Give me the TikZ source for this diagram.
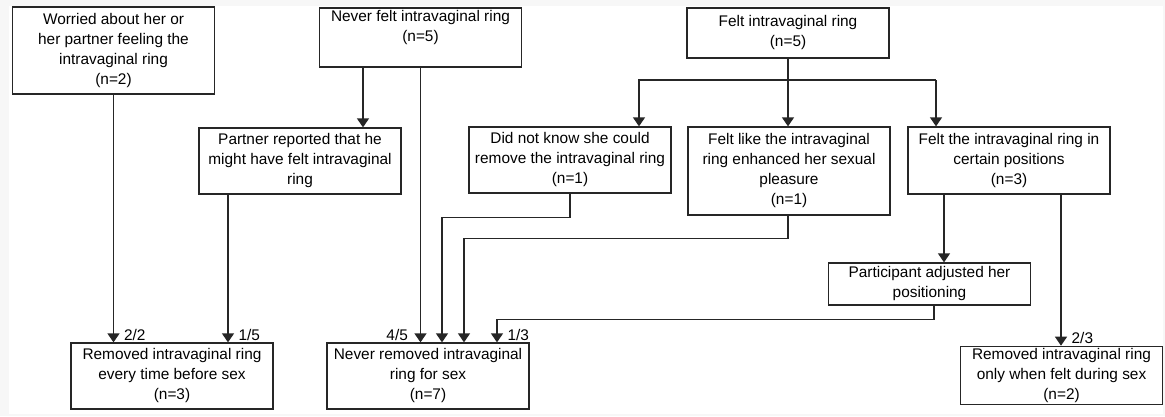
\documentclass[tikz,border=0pt]{standalone}
\usepackage{fontspec}
\setmainfont{Liberation Sans}
\usetikzlibrary{arrows.meta}

\tikzset{
	box/.style={draw=black!85, line width=1.3pt, align=center, inner sep=2pt, minimum width=202pt, font=\fontsize{15.4}{20}\selectfont},
	arr/.style={draw=black!85, line width=1.3pt, -{Triangle[width=12pt,length=9pt]}},
	lin/.style={draw=black!85, line width=1.3pt},
	lab/.style={font=\fontsize{15.4}{18}\selectfont, inner sep=1pt, anchor=south west, xshift=9pt},
	labl/.style={font=\fontsize{15.4}{18}\selectfont, inner sep=1pt, anchor=south east, xshift=-11pt},
}

\begin{document}
\begin{tikzpicture}[x=1pt,y=-1pt]
			\useasboundingbox (0,0) rectangle (1165,416);
			\fill[gray!6] (0,0) rectangle (1165,416);
			\fill[white] (9,6) rectangle (1163,414);

			\node[box, minimum height=87pt] (worry) at (113.5,50.5) {Worried about her or\\her partner feeling the\\intravaginal ring\\(n=2)};
			\node[box, minimum height=59pt, text depth=23pt] (never) at (420.5,37.5) {Never felt intravaginal ring\\(n=5)};
			\node[box, minimum height=50pt] (felt) at (788,33) {Felt intravaginal ring\\(n=5)};
			\node[box, minimum height=66pt] (partner) at (300,161) {Partner reported that he\\might have felt intravaginal\\ring};
			\node[box, minimum height=66pt] (dnk) at (570,160) {Did not know she could\\remove the intravaginal ring\\(n=1)};
			\node[box, minimum height=88pt] (enh) at (789,171) {Felt like the intravaginal\\ring enhanced her sexual\\pleasure\\(n=1)};
			\node[box, minimum height=67pt] (pos) at (1009,160.5) {Felt the intravaginal ring in\\certain positions\\(n=3)};
			\node[box, minimum height=42pt] (adj) at (929.5,284) {Participant adjusted her\\positioning};
			\node[box, minimum height=66pt] (rmall) at (172,376) {Removed intravaginal ring\\every time before sex\\(n=3)};
			\node[box, minimum height=66pt] (nrm) at (428,376) {Never removed intravaginal\\ring for sex\\(n=7)};
			\node[box, minimum height=57pt] (rmfelt) at (1061.5,375.5) {Removed intravaginal ring\\only when felt during sex\\(n=2)};

			\coordinate (brL) at (639,80);
			\coordinate (brR) at (936,80);

			\draw[arr] (worry.south) -- (worry.south |- rmall.north) node[lab]{2/2};
			\draw[arr] ([xshift=-72pt]partner.south) -- ([xshift=-72pt]partner.south |- rmall.north) node[lab]{1/5};
			\draw[arr] ([xshift=-57.5pt]never.south) -- ([xshift=-57.5pt]never.south |- partner.north);
			\draw[arr] (never.south) -- (never.south |- nrm.north) node[labl]{4/5};
			\draw[lin] (felt.south) -- (felt.south |- brL);
			\draw[arr] (brR) -- (brL) -- (brL |- dnk.north);
			\draw[arr] (felt.south |- brL) -- (felt.south |- enh.north);
			\draw[arr] (brR) -- (brR |- pos.north);
			\draw[arr] (dnk.south) -- ++(0,24) -| ([xshift=14pt]nrm.north);
			\draw[arr] ([xshift=-1pt]enh.south) -- ++(0,23) -| ([xshift=36pt]nrm.north);
			\draw[arr] ([xshift=-65pt]pos.south) -- ([xshift=-65pt]pos.south |- adj.north);
			\draw[arr] ([xshift=52pt]pos.south) -- ([xshift=52pt]pos.south |- rmfelt.north) node[lab]{2/3};
			\draw[arr] ([xshift=4.5pt]adj.south) -- ++(0,14) -| ([xshift=69pt]nrm.north) node[lab]{1/3};
		\end{tikzpicture}
\end{document}
